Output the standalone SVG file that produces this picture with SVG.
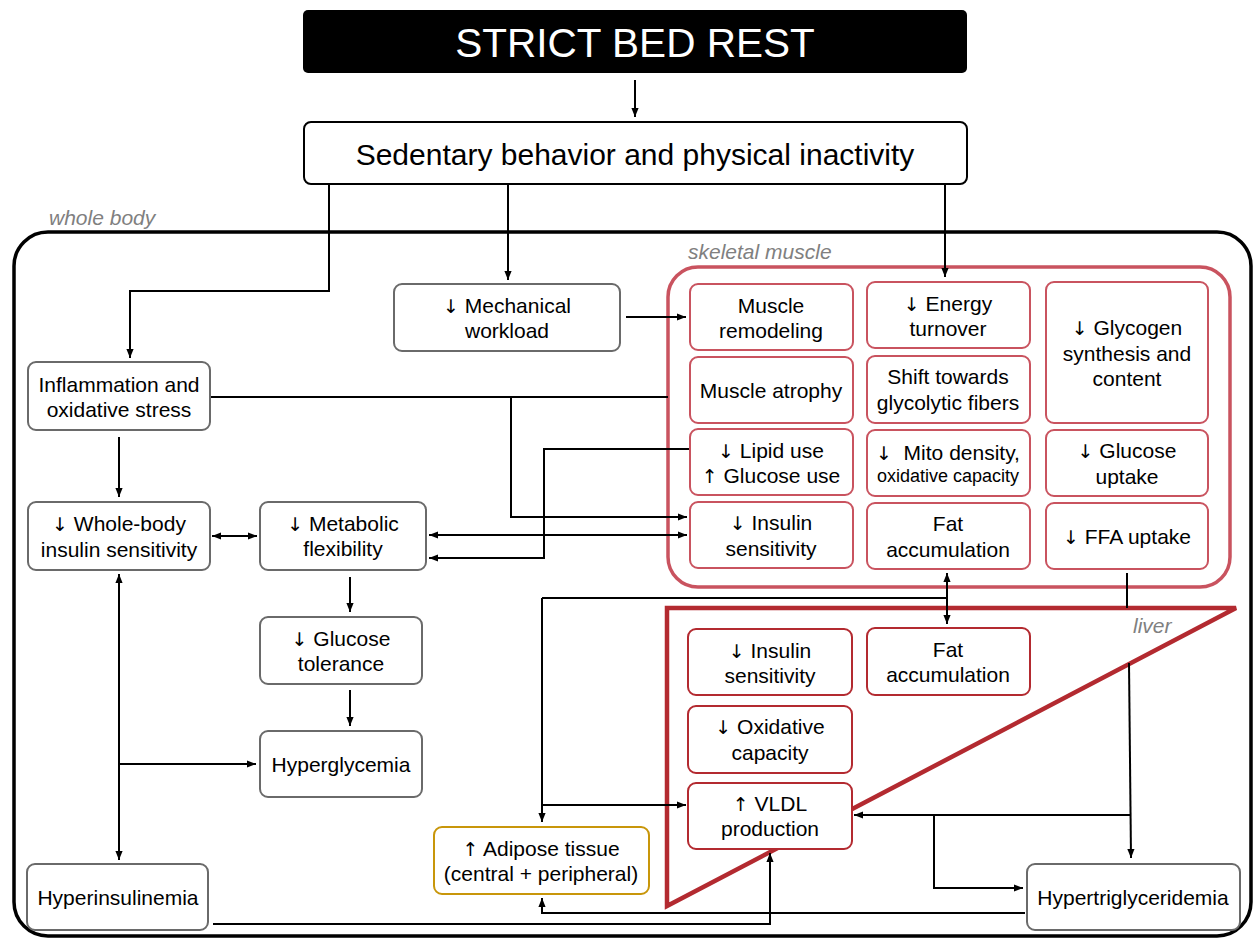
<svg xmlns="http://www.w3.org/2000/svg" width="1254" height="941" viewBox="0 0 1254 941">
<defs>
<marker id="ah" viewBox="0 0 10 10" refX="10" refY="5" markerWidth="9" markerHeight="9" markerUnits="userSpaceOnUse" orient="auto-start-reverse">
<path d="M0,1 L10,5 L0,9 z" fill="#000"/>
</marker>
<style>
text{font-family:"Liberation Sans","DejaVu Sans",Arial,sans-serif;font-size:21px;fill:#000;text-anchor:middle}
.ar{font-family:"DejaVu Sans",sans-serif;font-size:19px}
.sm{font-size:18px}
.lbl{font-style:italic;fill:#808080;text-anchor:start;font-size:21px}
.g{fill:#fff;stroke:#6a6a6a;stroke-width:2}
.m{fill:#fff;stroke:#c9535f;stroke-width:2}
.l{fill:#fff;stroke:#b32a30;stroke-width:2}
.a{fill:#fff;stroke:#c8960a;stroke-width:2}
.c{fill:none;stroke:#000;stroke-width:2}
.ca{fill:none;stroke:#000;stroke-width:2;marker-end:url(#ah)}
.cb{fill:none;stroke:#000;stroke-width:2;marker-end:url(#ah);marker-start:url(#ah)}
</style>
</defs>
<rect width="1254" height="941" fill="#fff"/>

<g id="whole-body-container">
<rect x="14" y="232" width="1237" height="704" rx="34" fill="none" stroke="#000" stroke-width="3.5"/>
<text class="lbl" x="49" y="225">whole body</text>
</g>

<g id="skeletal-muscle-container">
<rect x="668" y="267" width="562" height="320" rx="30" fill="none" stroke="#c9535f" stroke-width="3.5"/>
<text class="lbl" x="688" y="259">skeletal muscle</text>
</g>

<g id="liver-container">
<polygon points="667,608 1236,608 667,906" fill="none" stroke="#b32a30" stroke-width="4.5"/>
<text class="lbl" x="1133" y="633">liver</text>
</g>

<g id="connectors">
<path class="ca" d="M635,80 L635,117"/>
<path class="ca" d="M329,184 L329,291 L130,291 L130,358"/>
<path class="ca" d="M508,184 L508,280"/>
<path class="ca" d="M945,184 L945,277"/>
<path class="ca" d="M626,317 L686,317"/>
<path class="c" d="M210,397 L668,397"/>
<path class="ca" d="M511,397 L511,517 L687,517"/>
<path class="ca" d="M690,449 L544,449 L544,558 L429,558"/>
<path class="cb" d="M429,535 L687,535"/>
<path class="ca" d="M119,437 L119,497"/>
<path class="cb" d="M212,536 L257,536"/>
<path class="ca" d="M350,577 L350,612"/>
<path class="ca" d="M350,690 L350,726"/>
<path class="cb" d="M119,574 L119,860"/>
<path class="ca" d="M119,764 L256,764"/>
<path class="ca" d="M213,924 L770,924 L770,853"/>
<path class="ca" d="M1025,913 L542,913 L542,898"/>
<path class="cb" d="M947,573 L947,624"/>
<path class="c" d="M947,598 L542,598"/>
<path class="ca" d="M542,598 L542,822"/>
<path class="ca" d="M542,805 L686,805"/>
<path class="c" d="M1127,573 L1127,608"/>
<path class="ca" d="M1129,663 L1131,858"/>
<path class="ca" d="M1130,815 L854,815"/>
<path class="ca" d="M934,815 L934,888 L1023,888"/>
</g>

<g id="strict-bed-rest">
<rect x="303" y="10" width="664" height="63" rx="5" fill="#000"/>
<text x="635" y="57" style="font-size:40.5px;fill:#fff">STRICT BED REST</text>
</g>
<g id="sedentary">
<rect x="304" y="122" width="663" height="62" rx="7" fill="#fff" stroke="#000" stroke-width="2"/>
<text x="635" y="165" style="font-size:30px">Sedentary behavior and physical inactivity</text>
</g>

<g id="mechanical-workload">
<rect class="g" x="394" y="284" width="226" height="67" rx="8"/>
<text x="507" y="313"><tspan class="ar">↓</tspan> Mechanical</text><text x="507" y="338">workload</text>
</g>
<g id="inflammation">
<rect class="g" x="28" y="362" width="182" height="68" rx="8"/>
<text x="119" y="392">Inflammation and</text><text x="119" y="417">oxidative stress</text>
</g>
<g id="whole-body-insulin">
<rect class="g" x="28" y="502" width="182" height="68" rx="8"/>
<text x="119" y="531"><tspan class="ar">↓</tspan> Whole-body</text><text x="119" y="557">insulin sensitivity</text>
</g>
<g id="metabolic-flexibility">
<rect class="g" x="260" y="502" width="166" height="68" rx="8"/>
<text x="343" y="531"><tspan class="ar">↓</tspan> Metabolic</text><text x="343" y="556">flexibility</text>
</g>
<g id="glucose-tolerance">
<rect class="g" x="260" y="617" width="162" height="67" rx="8"/>
<text x="341" y="646"><tspan class="ar">↓</tspan> Glucose</text><text x="341" y="671">tolerance</text>
</g>
<g id="hyperglycemia">
<rect class="g" x="260" y="731" width="162" height="66" rx="8"/>
<text x="341" y="772">Hyperglycemia</text>
</g>
<g id="hyperinsulinemia">
<rect class="g" x="27" y="864" width="181" height="66" rx="8"/>
<text x="118" y="905">Hyperinsulinemia</text>
</g>
<g id="adipose">
<rect class="a" x="434" y="827" width="215" height="67" rx="8"/>
<text x="541" y="856"><tspan class="ar">↑</tspan> Adipose tissue</text><text x="541" y="881">(central + peripheral)</text>
</g>
<g id="hypertriglyceridemia">
<rect class="g" x="1027" y="864" width="213" height="66" rx="8"/>
<text x="1133" y="905">Hypertriglyceridemia</text>
</g>

<g id="muscle-remodeling">
<rect class="m" x="690" y="284" width="163" height="66" rx="8"/>
<text x="771" y="313">Muscle</text><text x="771" y="338">remodeling</text>
</g>
<g id="energy-turnover">
<rect class="m" x="867" y="282" width="163" height="66" rx="8"/>
<text x="948" y="311"><tspan class="ar">↓</tspan> Energy</text><text x="948" y="336">turnover</text>
</g>
<g id="glycogen">
<rect class="m" x="1046" y="282" width="162" height="141" rx="8"/>
<text x="1127" y="335"><tspan class="ar">↓</tspan> Glycogen</text><text x="1127" y="361">synthesis and</text><text x="1127" y="386">content</text>
</g>
<g id="muscle-atrophy">
<rect class="m" x="690" y="357" width="163" height="66" rx="8"/>
<text x="771" y="398">Muscle atrophy</text>
</g>
<g id="glycolytic-shift">
<rect class="m" x="867" y="356" width="163" height="67" rx="8"/>
<text x="948" y="384">Shift towards</text><text x="948" y="410">glycolytic fibers</text>
</g>
<g id="lipid-use">
<rect class="m" x="690" y="429" width="163" height="66" rx="8"/>
<text x="771" y="458"><tspan class="ar">↓</tspan> Lipid use</text><text x="771" y="483"><tspan class="ar">↑</tspan> Glucose use</text>
</g>
<g id="mito-density">
<rect class="m" x="867" y="430" width="163" height="66" rx="8"/>
<text x="948" y="460" xml:space="preserve"><tspan class="ar">↓</tspan>  Mito density,</text><text class="sm" x="948" y="482">oxidative capacity</text>
</g>
<g id="glucose-uptake">
<rect class="m" x="1046" y="430" width="162" height="66" rx="8"/>
<text x="1127" y="458"><tspan class="ar">↓</tspan> Glucose</text><text x="1127" y="484">uptake</text>
</g>
<g id="muscle-insulin-sensitivity">
<rect class="m" x="690" y="502" width="163" height="66" rx="8"/>
<text x="771" y="530"><tspan class="ar">↓</tspan> Insulin</text><text x="771" y="556">sensitivity</text>
</g>
<g id="muscle-fat-accumulation">
<rect class="m" x="867" y="503" width="163" height="66" rx="8"/>
<text x="948" y="531">Fat</text><text x="948" y="557">accumulation</text>
</g>
<g id="ffa-uptake">
<rect class="m" x="1046" y="503" width="162" height="66" rx="8"/>
<text x="1127" y="544"><tspan class="ar">↓</tspan> FFA uptake</text>
</g>

<g id="liver-insulin-sensitivity">
<rect class="l" x="688" y="629" width="164" height="66" rx="8"/>
<text x="770" y="658"><tspan class="ar">↓</tspan> Insulin</text><text x="770" y="683">sensitivity</text>
</g>
<g id="liver-fat-accumulation">
<rect class="l" x="867" y="628" width="163" height="67" rx="8"/>
<text x="948" y="657">Fat</text><text x="948" y="682">accumulation</text>
</g>
<g id="oxidative-capacity">
<rect class="l" x="688" y="706" width="164" height="67" rx="8"/>
<text x="770" y="734"><tspan class="ar">↓</tspan> Oxidative</text><text x="770" y="760">capacity</text>
</g>
<g id="vldl">
<rect class="l" x="688" y="783" width="164" height="66" rx="8"/>
<text x="770" y="811"><tspan class="ar">↑</tspan> VLDL</text><text x="770" y="836">production</text>
</g>
</svg>
